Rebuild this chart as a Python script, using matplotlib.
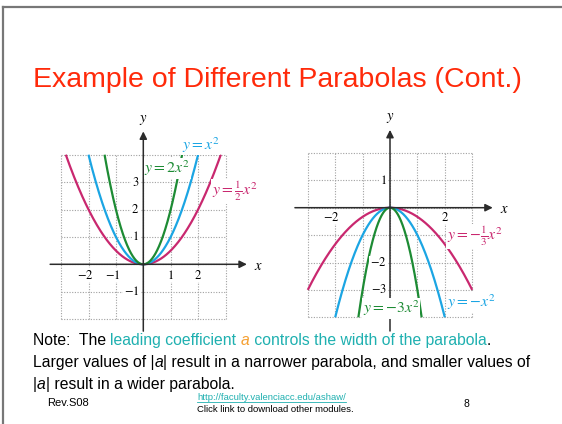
import matplotlib
import numpy as np

matplotlib.use("Agg")
import matplotlib.pyplot as plt
from matplotlib.lines import Line2D
from matplotlib.transforms import IdentityTransform

FIG_W, FIG_H = 562, 424
DPI = 100
UNIT = 27.4  # pixels per graph unit

TITLE = "Example of Different Parabolas (Cont.)"

# parabolas opening upward
UP_COEFS = [0.5, 1.0, 2.0]
UP_LABELS = [r"$y=\frac{1}{2}x^2$", r"$y=x^2$", r"$y=2x^2$"]
UP_X_TICKS = [-2, -1, 1, 2]
UP_Y_TICKS = [-1, 1, 2, 3]

# parabolas opening downward
DOWN_COEFS = [-1.0 / 3.0, -1.0, -3.0]
DOWN_LABELS = [r"$y=-\frac{1}{3}x^2$", r"$y=-x^2$", r"$y=-3x^2$"]
DOWN_X_TICKS = [-2, 2]
DOWN_Y_TICKS = [-3, -2, 1]

CURVE_COLORS = ["#c9286f", "#1ba5e3", "#1d8b34"]
TEAL = "#1fb0b0"
ORANGE = "#f5a033"
TITLE_RED = "#ff2a0a"

plt.rcParams["mathtext.fontset"] = "stix"
plt.rcParams["font.family"] = ["Liberation Sans", "DejaVu Sans"]


def make_graph_axes(fig, origin_px, xlim, ylim):
    ox, oy = origin_px
    left = ox + xlim[0] * UNIT
    top = oy - ylim[1] * UNIT
    width = (xlim[1] - xlim[0]) * UNIT
    height = (ylim[1] - ylim[0]) * UNIT
    ax = fig.add_axes([left / FIG_W, 1 - (top + height) / FIG_H, width / FIG_W, height / FIG_H])
    ax.set_xlim(*xlim)
    ax.set_ylim(*ylim)
    ax.set_axis_off()
    return ax


def draw_grid(ax, xr, yr):
    style = dict(color="#a0a0a0", linewidth=0.8, linestyle=(0, (1, 1.4)), zorder=1)
    for gx in range(xr[0], xr[1] + 1):
        ax.plot([gx, gx], [yr[0], yr[1]], **style)
    for gy in range(yr[0], yr[1] + 1):
        ax.plot([xr[0], xr[1]], [gy, gy], **style)


def draw_axes_arrows(ax, x_span, y_span):
    arrow = dict(arrowstyle="-|>", color="#2b2b2b", lw=1.1, mutation_scale=11, shrinkA=0, shrinkB=0)
    ax.annotate("", xy=(x_span[1], 0), xytext=(x_span[0], 0), arrowprops=arrow, zorder=4)
    ax.annotate("", xy=(0, y_span[1]), xytext=(0, y_span[0]), arrowprops=arrow, zorder=4)
    ax.text(x_span[1] + 0.42, -0.05, r"$x$", fontsize=10.5, ha="center", va="center")
    ax.text(0, y_span[1] + 0.42, r"$y$", fontsize=10.5, ha="center", va="center")


def draw_parabolas(ax, coefs, y_limit, x_limit=3.0):
    for coef, color in zip(coefs, CURVE_COLORS):
        x_end = min(x_limit, np.sqrt(abs(y_limit / coef)))
        xs = np.linspace(-x_end, x_end, 300)
        ax.plot(xs, coef * xs**2, color=color, linewidth=1.6, zorder=3, solid_capstyle="butt")


def tick_text(ax, x, y, value, ha):
    ax.text(x, y, rf"${value}$", fontsize=9, ha=ha, va="center", zorder=5,
            bbox=dict(facecolor="white", edgecolor="none", pad=0.3))


def curve_label(ax, x, y, text, color):
    ax.text(x, y, text, fontsize=11.3, color=color, ha="center", va="center", zorder=6,
            bbox=dict(facecolor="white", edgecolor="none", pad=0.3))


def draw_runs(fig, x, y, runs, size):
    """Draw one line of mixed-colour text, piece by piece, in pixel coordinates."""
    renderer = fig.canvas.get_renderer()
    for text, color, style in runs:
        fig.text(x, FIG_H - y, text, color=color, fontsize=size, fontstyle=style,
                 va="baseline", ha="left", transform=IdentityTransform())
        probe = fig.text(0, 0, text + "|", fontsize=size, fontstyle=style, transform=IdentityTransform())
        bar = fig.text(0, 0, "|", fontsize=size, fontstyle=style, transform=IdentityTransform())
        x += probe.get_window_extent(renderer).width - bar.get_window_extent(renderer).width
        probe.remove()
        bar.remove()


fig = plt.figure(figsize=(FIG_W / DPI, FIG_H / DPI), dpi=DPI)
fig.patch.set_facecolor("white")

# slide frame
fig.add_artist(Line2D([3 / FIG_W, 1], [1 - 6.5 / FIG_H] * 2, color="#777777", linewidth=1.6))
fig.add_artist(Line2D([3 / FIG_W] * 2, [0, 1 - 6.5 / FIG_H], color="#777777", linewidth=1.6))

fig.text(33 / FIG_W, 1 - 80 / FIG_H, TITLE, color=TITLE_RED, fontsize=20.5, ha="left", va="center")

# left graph: a > 0
ax_up = make_graph_axes(fig, (143.3, 264.3), (-3.6, 4.6), (-2.5, 5.4))
draw_grid(ax_up, (-3, 3), (-2, 4))
draw_parabolas(ax_up, UP_COEFS, 4.0)
draw_axes_arrows(ax_up, (-3.4, 3.78), (-2.44, 4.85))
for v in UP_X_TICKS:
    if v < 0:
        tick_text(ax_up, v + 0.17, -0.4, v, "right")
    else:
        tick_text(ax_up, v, -0.4, v, "center")
for v in UP_Y_TICKS:
    tick_text(ax_up, -0.15, v, v, "right")
curve_label(ax_up, 3.33, 2.65, UP_LABELS[0], CURVE_COLORS[0])
curve_label(ax_up, 2.1, 4.35, UP_LABELS[1], CURVE_COLORS[1])
curve_label(ax_up, 0.88, 3.5, UP_LABELS[2], CURVE_COLORS[2])

# right graph: a < 0
ax_down = make_graph_axes(fig, (390.0, 207.7), (-3.6, 4.6), (-4.8, 3.4))
draw_grid(ax_down, (-3, 3), (-4, 2))
draw_parabolas(ax_down, DOWN_COEFS, -4.0)
draw_axes_arrows(ax_down, (-3.47, 3.75), (-4.5, 2.84))
for v in DOWN_X_TICKS:
    if v < 0:
        tick_text(ax_down, v + 0.17, -0.35, v, "right")
    else:
        tick_text(ax_down, v, -0.35, v, "center")
for v in DOWN_Y_TICKS:
    tick_text(ax_down, -0.13, v, v, "right")
curve_label(ax_down, 3.1, -1.05, DOWN_LABELS[0], CURVE_COLORS[0])
curve_label(ax_down, 2.97, -3.46, DOWN_LABELS[1], CURVE_COLORS[1])
curve_label(ax_down, 0.04, -3.68, DOWN_LABELS[2], CURVE_COLORS[2])

# note under the graphs
fig.canvas.draw()
NOTE_SIZE = 11.3
draw_runs(fig, 33, 345, [
    ("Note:  The ", "black", "normal"),
    ("leading coefficient ", TEAL, "normal"),
    ("a", ORANGE, "italic"),
    (" controls the width of the parabola", TEAL, "normal"),
    (".", "black", "normal"),
], NOTE_SIZE)
draw_runs(fig, 33, 367, [
    ("Larger values of |", "black", "normal"),
    ("a", "black", "italic"),
    ("| result in a narrower parabola, and smaller values of", "black", "normal"),
], NOTE_SIZE)
draw_runs(fig, 33, 389, [
    ("|", "black", "normal"),
    ("a", "black", "italic"),
    ("| result in a wider parabola.", "black", "normal"),
], NOTE_SIZE)

# footer
fig.text(47 / FIG_W, 1 - 403 / FIG_H, "Rev.S08", fontsize=8, ha="left", va="center")
fig.text(197 / FIG_W, 1 - 397 / FIG_H, "http://faculty.valenciacc.edu/ashaw/", fontsize=6.8,
         color=TEAL, ha="left", va="center")
fig.add_artist(Line2D([197 / FIG_W, 346 / FIG_W], [1 - 401.5 / FIG_H] * 2, color=TEAL, linewidth=0.6))
fig.text(197 / FIG_W, 1 - 409.5 / FIG_H, "Click link to download other modules.", fontsize=6.8,
         ha="left", va="center")
fig.text(466 / FIG_W, 1 - 404 / FIG_H, "8", fontsize=7.5, ha="center", va="center")

fig.savefig("out.png", dpi=DPI)
